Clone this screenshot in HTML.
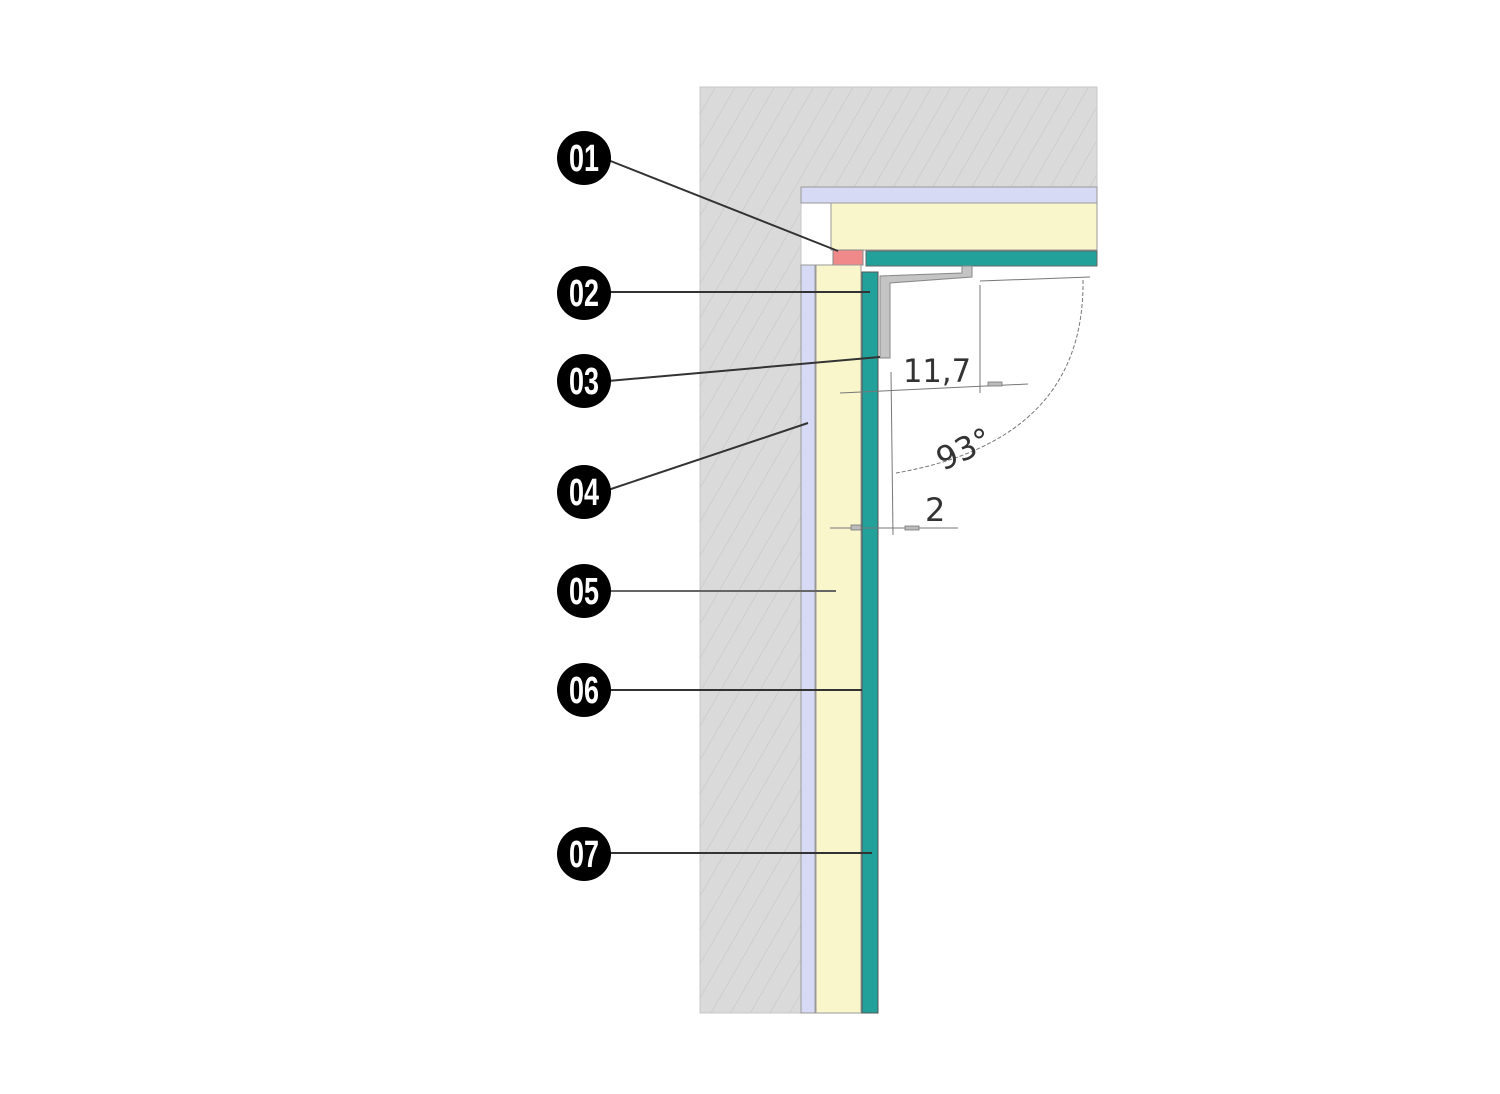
<!DOCTYPE html>
<html><head><meta charset="utf-8"><style>html,body{margin:0;padding:0;background:#fff}svg{display:block}</style></head><body>
<svg width="1500" height="1094" viewBox="0 0 1500 1094" xmlns="http://www.w3.org/2000/svg">
<defs>
<pattern id="h" patternUnits="userSpaceOnUse" width="17" height="17" patternTransform="rotate(30)">
<rect width="17" height="17" fill="#dadada"/>
<line x1="0" y1="0" x2="0" y2="17" stroke="#c2c2c2" stroke-width="1"/>
</pattern>
</defs>
<path d="M700 87 H1097 V187 H801 V1013 H700 Z" fill="url(#h)" stroke="#c8c8c8" stroke-width="1"/>
<rect x="801" y="187" width="296" height="16" fill="#d6daf4" stroke="#999" stroke-width="1"/>
<rect x="831" y="203" width="266" height="47" fill="#faf6cc" stroke="#999" stroke-width="1"/>
<rect x="866" y="251" width="231" height="15" fill="#22a19a" stroke="#666" stroke-width="1"/>
<rect x="833" y="250" width="30" height="15" fill="#f08a8a" stroke="#888" stroke-width="1"/>
<rect x="801" y="265" width="14" height="748" fill="#d6daf4" stroke="#999" stroke-width="1"/>
<rect x="816" y="265" width="45" height="748" fill="#faf6cc" stroke="#999" stroke-width="1"/>
<rect x="862" y="272" width="16" height="741" fill="#22a19a" stroke="#555" stroke-width="1"/>
<path d="M880 358 V276 L962 273 V266 H972 V277 L890 283 V358 Z" fill="#c4c4c4" stroke="#888" stroke-width="1"/>
<g stroke="#777" stroke-width="1" fill="none">
<line x1="840" y1="393" x2="1028" y2="384"/>
<line x1="891" y1="372" x2="893" y2="535"/>
<line x1="980" y1="285" x2="980" y2="393"/>
<line x1="980" y1="281" x2="1090" y2="277"/>
<path d="M1083 280 Q1085 440 896 473" stroke-dasharray="4 2"/>
<line x1="830" y1="528" x2="958" y2="528"/>
</g>
<g fill="#bbb" stroke="#777" stroke-width="0.8">
<rect x="988" y="382" width="14" height="4"/>
<rect x="851" y="525" width="10" height="5"/>
<rect x="905" y="526" width="14" height="4"/>
</g>
<g font-family="DejaVu Sans, sans-serif" font-size="32" fill="#333">
<text x="903" y="382" textLength="68" lengthAdjust="spacingAndGlyphs">11,7</text>
<text x="925" y="521">2</text>
<text x="932" y="462" transform="rotate(-25 958 442)">93°</text>
</g>
<g stroke="#333" stroke-width="2" fill="none">
<line x1="608" y1="160" x2="838" y2="251"/>
<line x1="608" y1="292" x2="870" y2="292"/>
<line x1="608" y1="381" x2="880" y2="357"/>
<line x1="608" y1="490" x2="808" y2="423"/>
<line x1="608" y1="591" x2="836" y2="591" stroke="#666"/>
<line x1="608" y1="690" x2="862" y2="690"/>
<line x1="608" y1="853" x2="872" y2="853"/>
</g>
<g font-family="Liberation Sans Narrow, Liberation Sans, sans-serif" font-weight="bold" font-size="38" fill="#fff" text-anchor="middle">
<circle cx="584" cy="158" r="27" fill="#000"/><text x="584" y="171" textLength="30" lengthAdjust="spacingAndGlyphs">01</text>
<circle cx="584" cy="293" r="27" fill="#000"/><text x="584" y="306" textLength="30" lengthAdjust="spacingAndGlyphs">02</text>
<circle cx="584" cy="381" r="27" fill="#000"/><text x="584" y="394" textLength="30" lengthAdjust="spacingAndGlyphs">03</text>
<circle cx="584" cy="492" r="27" fill="#000"/><text x="584" y="505" textLength="30" lengthAdjust="spacingAndGlyphs">04</text>
<circle cx="584" cy="591" r="27" fill="#000"/><text x="584" y="604" textLength="30" lengthAdjust="spacingAndGlyphs">05</text>
<circle cx="584" cy="690" r="27" fill="#000"/><text x="584" y="703" textLength="30" lengthAdjust="spacingAndGlyphs">06</text>
<circle cx="584" cy="854" r="27" fill="#000"/><text x="584" y="867" textLength="30" lengthAdjust="spacingAndGlyphs">07</text>
</g>
</svg>
</body></html>
